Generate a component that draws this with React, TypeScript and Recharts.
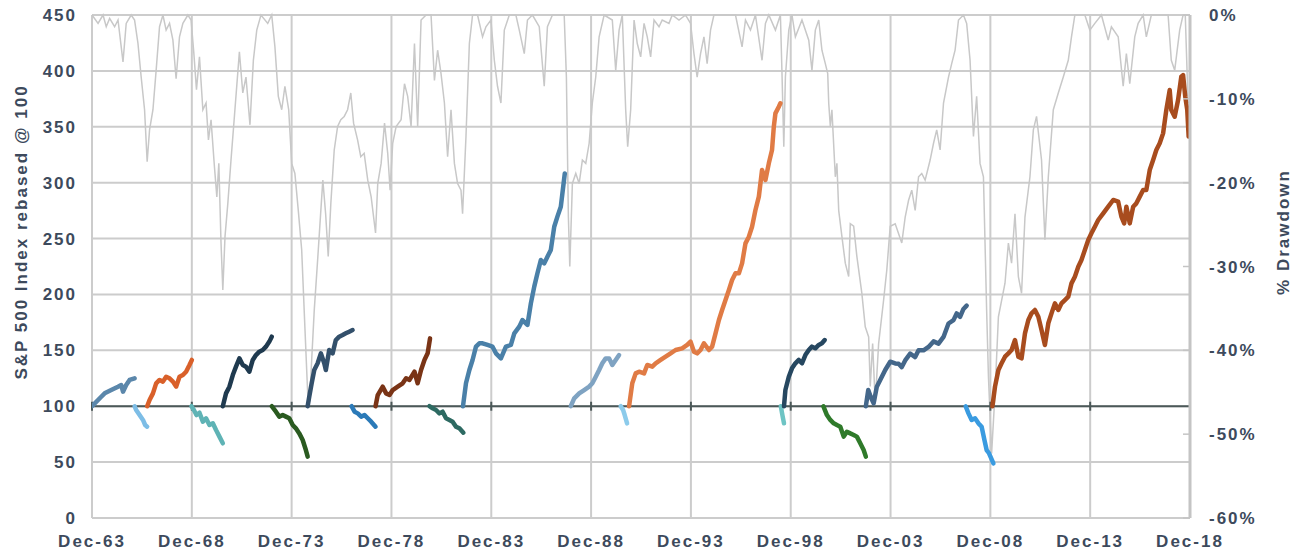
import React from 'react';
import { ComposedChart, Line, XAxis, YAxis, CartesianGrid, ReferenceLine } from 'recharts';

type Pt = [number, number];

// x values are decimal years, Dec-YY = YY + 11/12
const xTicks = [1963.917, 1968.917, 1973.917, 1978.917, 1983.917, 1988.917, 1993.917, 1998.917, 2003.917, 2008.917, 2013.917, 2018.917];
const xTickLabels = ['Dec-63', 'Dec-68', 'Dec-73', 'Dec-78', 'Dec-83', 'Dec-88', 'Dec-93', 'Dec-98', 'Dec-03', 'Dec-08', 'Dec-13', 'Dec-18'];
const indexTicks = [0, 50, 100, 150, 200, 250, 300, 350, 400, 450];
const drawdownTicks = [-60, -50, -40, -30, -20, -10, 0];

// % drawdown from previous peak (right axis)
const drawdown: Pt[] = [
  [1963.92, 0], [1964.22, -1.0], [1964.47, 0], [1964.63, -1.4], [1964.8, -0.4], [1965.05, -1.4], [1965.22, -0.6], [1965.47, -5.6], [1965.63, -1.0], [1965.88, 0],
  [1966.05, -0.6], [1966.22, -3.4], [1966.38, -7.4], [1966.55, -11.3], [1966.68, -17.5], [1966.8, -13.7], [1966.97, -11.3], [1967.13, -6.6], [1967.3, -1.4], [1967.47, 0],
  [1967.63, -1.8], [1967.8, -1.0], [1967.97, -3.0], [1968.13, -7.6], [1968.3, -2.6], [1968.47, -1.0], [1968.72, 0], [1968.88, -0.6], [1969.02, -4.6], [1969.15, -8.9],
  [1969.3, -5.0], [1969.47, -11.3], [1969.63, -10.5], [1969.75, -14.9], [1969.88, -12.5], [1970.05, -18.1], [1970.17, -21.7], [1970.27, -17.7], [1970.38, -27.2], [1970.47, -32.8],
  [1970.58, -26.4], [1970.72, -22.5], [1970.88, -17.3], [1971.05, -12.1], [1971.3, -4.4], [1971.47, -9.3], [1971.63, -7.4], [1971.83, -13.1], [1972.0, -5.4], [1972.17, -1.8],
  [1972.38, 0], [1972.72, -1.0], [1972.92, 0], [1973.08, -3.8], [1973.25, -9.7], [1973.42, -11.3], [1973.58, -8.5], [1973.77, -11.3], [1973.92, -17.7], [1974.08, -18.9],
  [1974.25, -23.3], [1974.42, -28.0], [1974.58, -37.2], [1974.72, -45.1], [1974.82, -46.1], [1974.92, -41.2], [1975.05, -35.2], [1975.22, -29.2], [1975.38, -23.3], [1975.48, -19.7],
  [1975.62, -23.7], [1975.75, -28.8], [1975.88, -22.5], [1976.05, -16.1], [1976.22, -13.3], [1976.38, -12.5], [1976.55, -12.1], [1976.72, -11.3], [1976.88, -9.3], [1977.02, -12.9],
  [1977.22, -14.9], [1977.38, -16.9], [1977.55, -16.5], [1977.73, -19.7], [1977.9, -21.7], [1978.12, -26.0], [1978.23, -20.1], [1978.4, -17.7], [1978.57, -12.9], [1978.73, -16.5],
  [1978.85, -20.9], [1978.98, -15.3], [1979.15, -13.3], [1979.4, -12.5], [1979.57, -8.2], [1979.73, -9.7], [1979.9, -13.3], [1980.07, -3.4], [1980.23, -13.3], [1980.4, -0.6],
  [1980.65, 0], [1980.9, 0], [1981.07, -7.8], [1981.23, -4.2], [1981.4, -7.0], [1981.57, -10.5], [1981.73, -16.9], [1981.9, -11.3], [1982.07, -17.7], [1982.23, -20.1],
  [1982.4, -20.9], [1982.48, -23.7], [1982.65, -14.5], [1982.82, -3.4], [1982.98, 0], [1983.23, 0], [1983.48, -2.6], [1983.65, -1.4], [1983.9, -0.6], [1984.07, -5.4],
  [1984.23, -8.5], [1984.4, -10.5], [1984.57, -1.8], [1984.82, 0], [1985.15, 0], [1985.32, -1.8], [1985.57, -4.6], [1985.73, -0.6], [1985.98, 0], [1986.32, -1.4],
  [1986.57, -8.5], [1986.73, -1.4], [1986.98, 0], [1987.32, 0], [1987.57, 0], [1987.68, -7.4], [1987.78, -24.1], [1987.85, -30.0], [1987.98, -20.1], [1988.15, -18.9],
  [1988.32, -20.1], [1988.48, -17.3], [1988.65, -17.7], [1988.82, -15.3], [1988.98, -10.5], [1989.15, -7.4], [1989.32, -2.6], [1989.57, 0], [1989.98, -0.6], [1990.15, -6.6],
  [1990.32, -1.8], [1990.48, 0], [1990.65, -11.3], [1990.75, -15.7], [1990.9, -11.3], [1991.07, -0.6], [1991.23, -3.4], [1991.4, -5.0], [1991.57, -1.0], [1991.73, -2.6],
  [1991.9, -5.0], [1992.07, -0.6], [1992.32, -1.4], [1992.48, -0.6], [1992.82, -1.0], [1992.98, 0], [1993.32, -0.6], [1993.65, 0], [1993.9, -1.0], [1994.07, -4.6],
  [1994.23, -7.4], [1994.4, -4.6], [1994.57, -2.6], [1994.73, -5.8], [1994.9, -1.8], [1995.07, 0], [1995.82, 0], [1996.15, 0], [1996.48, -3.8], [1996.65, -0.6],
  [1996.9, -1.8], [1997.15, 0], [1997.48, -5.4], [1997.65, -1.0], [1997.82, 0], [1998.15, -1.8], [1998.4, 0], [1998.48, -7.0], [1998.57, -15.7], [1998.65, -7.4],
  [1998.82, -1.8], [1998.98, 0], [1999.15, -2.6], [1999.48, -0.6], [1999.82, -3.0], [1999.98, -6.6], [2000.15, -1.8], [2000.32, -0.6], [2000.48, -4.2], [2000.65, -5.8],
  [2000.77, -7.0], [2000.82, -10.5], [2000.9, -13.3], [2000.98, -11.3], [2001.15, -19.3], [2001.23, -17.7], [2001.32, -23.3], [2001.48, -26.4], [2001.65, -29.6], [2001.82, -31.2],
  [2001.9, -24.9], [2002.07, -25.2], [2002.23, -28.8], [2002.48, -33.2], [2002.65, -37.2], [2002.82, -38.4], [2002.9, -44.3], [2003.02, -39.2], [2003.15, -46.3], [2003.32, -39.2],
  [2003.57, -34.0], [2003.73, -30.4], [2003.9, -25.2], [2004.15, -24.9], [2004.48, -27.2], [2004.65, -24.1], [2004.82, -22.1], [2004.98, -20.9], [2005.15, -23.3], [2005.32, -19.3],
  [2005.48, -18.9], [2005.65, -19.7], [2005.9, -17.3], [2006.07, -15.3], [2006.23, -13.7], [2006.4, -16.1], [2006.57, -10.5], [2006.82, -7.4], [2006.98, -5.8], [2007.15, -4.2],
  [2007.32, -0.6], [2007.57, 0], [2007.73, -1.0], [2007.9, -5.4], [2008.07, -14.5], [2008.23, -9.7], [2008.4, -17.7], [2008.57, -19.3], [2008.65, -27.2], [2008.73, -35.2],
  [2008.82, -43.1], [2008.98, -52.3], [2009.15, -45.1], [2009.32, -36.0], [2009.65, -32.0], [2009.82, -27.2], [2009.98, -29.6], [2010.15, -23.7], [2010.32, -31.2], [2010.48, -33.2],
  [2010.65, -24.1], [2010.9, -19.3], [2011.07, -13.7], [2011.23, -12.1], [2011.48, -17.3], [2011.65, -26.8], [2011.82, -19.3], [2012.07, -11.3], [2012.32, -9.3], [2012.57, -7.4],
  [2012.82, -5.4], [2012.98, -2.6], [2013.15, 0], [2013.65, 0], [2013.9, -1.8], [2014.15, -1.0], [2014.48, 0], [2014.82, -3.0], [2014.98, -1.4], [2015.32, -2.6],
  [2015.57, -8.5], [2015.73, -4.6], [2015.9, -8.2], [2016.15, -2.6], [2016.32, -1.0], [2016.57, 0], [2016.73, -2.6], [2016.98, 0], [2017.82, 0], [2017.98, -5.4],
  [2018.15, -6.6], [2018.4, -1.8], [2018.57, 0], [2018.68, 0], [2018.82, -10.5],
];

// S&P 500 rebased @ 100 at the start of each bull / bear phase (left axis)
const bull1964: Pt[] = [[1963.92, 100], [1964.22, 105.6], [1964.38, 108.5], [1964.55, 111.5], [1964.88, 114.5], [1965.22, 117.5], [1965.38, 119.0], [1965.47, 113.0], [1965.63, 119.0], [1965.8, 123.5], [1966.05, 125.0]];
const bear1966: Pt[] = [[1966.05, 100], [1966.13, 96.6], [1966.3, 92.1], [1966.47, 87.7], [1966.58, 83.2], [1966.68, 81.7]];
const bull1967: Pt[] = [[1966.68, 100], [1966.8, 105.6], [1966.97, 111.5], [1967.13, 120.5], [1967.3, 123.5], [1967.47, 122.0], [1967.63, 126.4], [1967.8, 125.0], [1967.97, 122.0], [1968.13, 117.5], [1968.3, 126.4], [1968.47, 127.9], [1968.63, 130.9], [1968.8, 136.9], [1968.92, 141.4]];
const bear1969: Pt[] = [[1968.9, 100], [1969.02, 96.6], [1969.15, 92.1], [1969.3, 94.2], [1969.47, 86.2], [1969.63, 89.2], [1969.8, 83.2], [1969.97, 84.7], [1970.13, 78.7], [1970.3, 72.8], [1970.47, 66.8]];
const bull1970: Pt[] = [[1970.47, 100], [1970.63, 111.5], [1970.8, 117.5], [1970.97, 127.9], [1971.13, 135.4], [1971.3, 142.8], [1971.47, 136.9], [1971.63, 135.4], [1971.8, 130.9], [1971.97, 141.4], [1972.13, 145.8], [1972.3, 148.8], [1972.47, 150.3], [1972.63, 153.3], [1972.8, 157.8], [1972.92, 162.2]];
const bear1973: Pt[] = [[1972.92, 100], [1973.13, 95.1], [1973.3, 90.7], [1973.47, 92.1], [1973.63, 90.7], [1973.8, 89.2], [1973.97, 83.2], [1974.13, 80.2], [1974.3, 75.7], [1974.47, 69.8], [1974.63, 60.8], [1974.72, 54.9]];
const bull1974: Pt[] = [[1974.72, 100], [1974.8, 108.5], [1974.92, 120.5], [1975.05, 132.4], [1975.22, 138.4], [1975.38, 147.3], [1975.55, 138.4], [1975.63, 132.4], [1975.8, 150.3], [1975.97, 147.3], [1976.13, 159.2], [1976.3, 162.2], [1976.47, 163.7], [1976.63, 165.2], [1976.8, 166.7], [1976.97, 168.2]];
const bear1977: Pt[] = [[1976.92, 100], [1977.07, 95.1], [1977.23, 93.6], [1977.4, 90.7], [1977.57, 92.1], [1977.73, 89.2], [1977.9, 86.2], [1978.12, 81.7]];
const bull1978: Pt[] = [[1978.12, 100], [1978.23, 110.0], [1978.48, 117.5], [1978.65, 111.5], [1978.82, 110.0], [1978.98, 114.5], [1979.23, 117.5], [1979.48, 120.5], [1979.65, 125.0], [1979.82, 123.5], [1980.07, 130.9], [1980.23, 120.5], [1980.4, 132.4], [1980.57, 141.4], [1980.73, 147.3], [1980.85, 160.7]];
const bear1981: Pt[] = [[1980.82, 100], [1980.98, 98.1], [1981.15, 96.6], [1981.32, 93.6], [1981.48, 95.1], [1981.65, 89.2], [1981.82, 87.7], [1981.98, 86.2], [1982.15, 81.7], [1982.32, 80.2], [1982.52, 76.3]];
const bull1982: Pt[] = [[1982.5, 100], [1982.65, 120.5], [1982.82, 132.4], [1982.98, 141.4], [1983.15, 153.3], [1983.32, 156.3], [1983.48, 156.3], [1983.73, 154.8], [1983.98, 153.3], [1984.15, 147.3], [1984.4, 142.8], [1984.65, 153.3], [1984.9, 154.8], [1985.07, 165.2], [1985.32, 171.2], [1985.48, 177.1], [1985.73, 172.7], [1985.9, 192.0], [1986.07, 207.0], [1986.23, 218.9], [1986.4, 230.8], [1986.57, 227.8], [1986.73, 233.8], [1986.9, 239.8], [1987.07, 260.6], [1987.23, 269.6], [1987.4, 278.5], [1987.6, 308.3]];
const bull1987: Pt[] = [[1987.9, 100], [1988.07, 107.1], [1988.32, 111.5], [1988.57, 114.5], [1988.82, 117.5], [1988.98, 120.5], [1989.15, 126.4], [1989.32, 132.4], [1989.48, 138.4], [1989.65, 142.8], [1989.82, 142.8], [1989.98, 136.9], [1990.15, 141.4], [1990.32, 145.8]];
const bear1990: Pt[] = [[1990.4, 100], [1990.52, 96.6], [1990.6, 92.1], [1990.72, 84.7]];
const bull1990: Pt[] = [[1990.82, 100], [1990.98, 120.5], [1991.15, 129.4], [1991.32, 130.9], [1991.57, 129.4], [1991.73, 136.9], [1991.98, 135.4], [1992.15, 138.4], [1992.4, 141.4], [1992.65, 144.3], [1992.9, 147.3], [1993.15, 150.3], [1993.48, 151.8], [1993.73, 154.8], [1993.9, 157.8], [1994.07, 148.8], [1994.23, 147.3], [1994.4, 150.3], [1994.57, 156.3], [1994.82, 150.3], [1994.98, 153.3], [1995.15, 165.2], [1995.32, 177.1], [1995.48, 186.1], [1995.65, 195.0], [1995.82, 203.9], [1995.98, 212.9], [1996.15, 218.9], [1996.32, 218.9], [1996.48, 227.8], [1996.65, 245.7], [1996.82, 251.7], [1996.98, 260.6], [1997.15, 275.5], [1997.32, 287.5], [1997.48, 311.3], [1997.65, 302.4], [1997.82, 317.3], [1997.98, 329.2], [1998.07, 350.1], [1998.15, 362.0], [1998.32, 368.0], [1998.4, 371.0]];
const bear1998: Pt[] = [[1998.42, 100], [1998.5, 92.1], [1998.58, 84.7]];
const bull1998: Pt[] = [[1998.58, 100], [1998.65, 114.5], [1998.82, 126.4], [1998.98, 133.9], [1999.15, 138.4], [1999.32, 141.4], [1999.48, 138.4], [1999.65, 145.8], [1999.82, 150.3], [1999.98, 153.3], [2000.15, 151.8], [2000.32, 154.8], [2000.48, 156.3], [2000.62, 159.2]];
const bear2000: Pt[] = [[2000.55, 100], [2000.73, 92.1], [2000.9, 87.7], [2001.07, 84.7], [2001.23, 83.2], [2001.4, 81.7], [2001.57, 72.8], [2001.73, 77.2], [2001.9, 75.7], [2002.07, 74.3], [2002.23, 72.8], [2002.4, 66.8], [2002.57, 60.8], [2002.68, 54.9]];
const bull2002: Pt[] = [[2002.68, 100], [2002.8, 114.5], [2002.92, 108.5], [2003.07, 102.6], [2003.23, 117.5], [2003.4, 123.4], [2003.65, 132.4], [2003.9, 139.8], [2004.15, 138.3], [2004.32, 138.0], [2004.48, 135.0], [2004.65, 141.0], [2004.9, 147.0], [2005.15, 144.0], [2005.32, 150.0], [2005.57, 150.0], [2005.82, 153.0], [2006.07, 158.0], [2006.32, 156.0], [2006.57, 162.0], [2006.82, 174.0], [2007.07, 177.0], [2007.23, 183.0], [2007.4, 180.0], [2007.57, 187.0], [2007.73, 190.0]];
const bear2007: Pt[] = [[2007.68, 100], [2007.82, 93.6], [2007.98, 87.7], [2008.15, 89.2], [2008.32, 84.7], [2008.48, 81.7], [2008.62, 69.8], [2008.73, 60.8], [2008.85, 57.9], [2009.07, 48.9]];
const bull2009: Pt[] = [[2009.02, 100], [2009.15, 117.5], [2009.32, 132.4], [2009.48, 138.4], [2009.65, 144.3], [2009.82, 147.3], [2009.98, 150.3], [2010.15, 159.2], [2010.32, 144.3], [2010.48, 142.8], [2010.65, 165.2], [2010.82, 177.1], [2010.98, 183.1], [2011.15, 186.1], [2011.32, 180.1], [2011.48, 168.2], [2011.65, 154.8], [2011.82, 174.2], [2011.98, 183.1], [2012.15, 192.0], [2012.32, 186.1], [2012.48, 192.0], [2012.65, 195.0], [2012.82, 198.0], [2012.98, 209.9], [2013.15, 215.9], [2013.32, 224.8], [2013.48, 230.8], [2013.65, 239.8], [2013.82, 248.7], [2013.98, 254.7], [2014.15, 260.6], [2014.32, 266.6], [2014.57, 272.6], [2014.82, 278.5], [2015.07, 284.5], [2015.32, 283.0], [2015.48, 269.6], [2015.62, 263.6], [2015.73, 278.5], [2015.9, 263.6], [2016.07, 278.5], [2016.23, 281.5], [2016.4, 287.5], [2016.57, 293.5], [2016.73, 293.5], [2016.9, 311.3], [2017.07, 320.3], [2017.23, 329.2], [2017.4, 335.2], [2017.57, 344.1], [2017.73, 365.0], [2017.9, 382.9], [2017.98, 365.0], [2018.15, 359.0], [2018.32, 374.0], [2018.48, 394.8], [2018.57, 396.3], [2018.68, 376.9], [2018.78, 365.0], [2018.85, 341.2]];

const phases = [bull1964, bear1966, bull1967, bear1969, bull1970, bear1973, bull1974, bear1977, bull1978, bear1981, bull1982, bull1987, bear1990, bull1990, bear1998, bull1998, bear2000, bull2002, bear2007, bull2009];
const phaseColors = ['#5b87ab', '#7dbde6', '#d9602a', '#5fb3b5', '#1f3a4f', '#2a5a20', '#33506b', '#2b7ab8', '#7a3416', '#2d6a62', '#4a80a8', '#7fa3c2', '#8ccbeb', '#e07b45', '#6ec4c4', '#264760', '#2f7a2a', '#44678a', '#3a9be0', '#a84c1e'];

const FONT = '"Liberation Sans", Arial, sans-serif';
const TEXT = '#3d4a5c';
const GRID = '#cccccc';
const tickStyle = { fill: TEXT, fontSize: 17, fontWeight: 700, fontFamily: FONT, letterSpacing: 2 };

const toRows = (pts: Pt[]) => pts.map(([x, v]) => ({ x, v }));

export default function App() {
  const titleStyle: React.CSSProperties = {
    position: 'absolute', top: 232, transform: 'translate(-50%, -50%) rotate(-90deg)',
    whiteSpace: 'nowrap', fontFamily: FONT, fontSize: 17, fontWeight: 700, color: TEXT, letterSpacing: 2,
  };
  return (
    <div style={{ position: 'relative', width: 1305, height: 555, background: '#fff' }}>
      <style>{'body{margin:0}'}</style>
      <ComposedChart width={1305} height={555} margin={{ top: 15, right: 0, bottom: 0, left: 0 }}>
        <CartesianGrid stroke={GRID} strokeWidth={2} />
        <XAxis
          dataKey="x"
          type="number"
          domain={[xTicks[0], xTicks[xTicks.length - 1]]}
          ticks={xTicks}
          tickFormatter={(v: number) => xTickLabels[xTicks.indexOf(v)] ?? ''}
          allowDataOverflow
          height={37}
          tickLine={false}
          tickSize={0}
          tickMargin={17}
          axisLine={{ stroke: GRID, strokeWidth: 2 }}
          tick={tickStyle}
        />
        <YAxis
          domain={[0, 450]}
          ticks={indexTicks}
          width={92}
          axisLine={false}
          tickLine={false}
          tickSize={0}
          tickMargin={15}
          tick={tickStyle}
        />
        <YAxis
          yAxisId="dd"
          orientation="right"
          domain={[-60, 0]}
          ticks={drawdownTicks}
          width={115}
          axisLine={{ stroke: '#c4c4c4', strokeWidth: 3 }}
          tickLine={{ stroke: '#c4c4c4', strokeWidth: 1.5 }}
          tickSize={-7}
          tickMargin={26}
          tickFormatter={(v: number) => `${v}%`}
          tick={tickStyle}
        />
        <Line
          yAxisId="dd"
          data={toRows(drawdown)}
          dataKey="v"
          stroke="#c8c8c8"
          strokeWidth={1.5}
          dot={false}
          activeDot={false}
          isAnimationActive={false}
        />
        <ReferenceLine y={100} stroke="#4b5858" strokeWidth={2} />
        {xTicks.map((t) => (
          <ReferenceLine key={`tk-${t}`} segment={[{ x: t, y: 96 }, { x: t, y: 104 }]} stroke="#4b5858" strokeWidth={2} />
        ))}
        {phases.map((pts, i) => (
          <Line
            key={`phase-${i}`}
            data={toRows(pts)}
            dataKey="v"
            stroke={phaseColors[i]}
            strokeWidth={4.5}
            strokeLinejoin="round"
            strokeLinecap="round"
            dot={false}
            activeDot={false}
            isAnimationActive={false}
          />
        ))}
      </ComposedChart>
      <div style={{ ...titleStyle, left: 22 }}>S&amp;P 500 Index rebased @ 100</div>
      <div style={{ ...titleStyle, left: 1284 }}>% Drawdown</div>
    </div>
  );
}
